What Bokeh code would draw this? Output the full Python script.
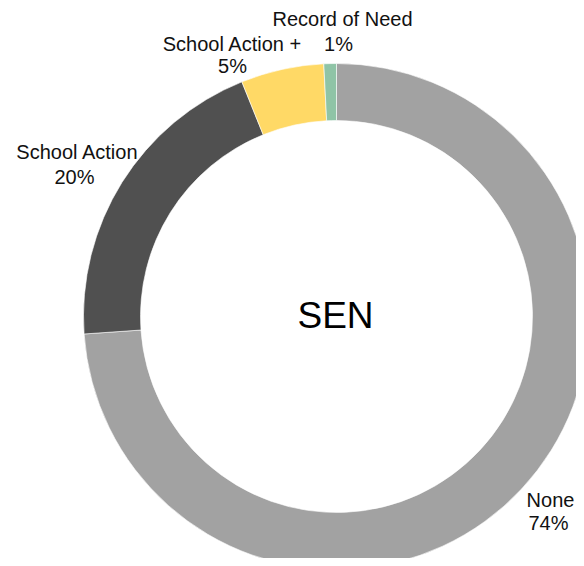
import math
from bokeh.plotting import figure
from bokeh.models import Range1d, ColumnDataSource
from bokeh.core.properties import value
from bokeh.embed import file_html
from bokeh.resources import INLINE

# Data
categories = ["None", "School Action", "School Action +", "Record of Need"]
shares = [73.9, 20.0, 5.3, 0.8]
colors = ["#a2a2a2", "#505050", "#ffd966", "#8fc4a6"]
center_title = "SEN"

W, H = 576, 558
p = figure(width=W, height=H, output_backend="svg", toolbar_location=None,
           x_range=Range1d(0, W), y_range=Range1d(0, H), min_border=0)
p.axis.visible = False
p.grid.visible = False
p.outline_line_color = None
p.background_fill_color = "white"
p.border_fill_color = "white"

cx, cy = 336, 242
R_out, R_in = 253, 196

total = sum(shares)
starts, ends = [], []
cum = 0.0
for s in shares:
    a0 = cum / total
    cum += s
    a1 = cum / total
    # clockwise from 12 o'clock
    starts.append(math.pi / 2 - 2 * math.pi * a1)
    ends.append(math.pi / 2 - 2 * math.pi * a0)

src = ColumnDataSource(dict(x=[cx] * len(shares), y=[cy] * len(shares),
                            start=starts, end=ends, color=colors))
p.annular_wedge(x="x", y="y", inner_radius=R_in, outer_radius=R_out,
                start_angle="start", end_angle="end", fill_color="color",
                line_color="white", line_width=0.6, source=src)

# label positions (name line, percent line)
name_pos = [(550, 59), (77, 407), (232, 515), (342, 540)]
pct_pos = [(548, 36), (74, 382), (232, 493), (338, 515)]
pct_text = [f"{round(s)}%" for s in shares]

font = value("Liberation Sans")
p.text(x=[q[0] for q in name_pos], y=[q[1] for q in name_pos], text=categories,
       text_font=font, text_font_size="20px", text_color="#111111",
       text_align="center", text_baseline="middle")
p.text(x=[q[0] for q in pct_pos], y=[q[1] for q in pct_pos], text=pct_text,
       text_font=font, text_font_size="20px", text_color="#111111",
       text_align="center", text_baseline="middle")
p.text(x=[335], y=[243], text=[center_title], text_font=font,
       text_font_size="37px", text_color="#000000",
       text_align="center", text_baseline="middle")

open("out.html", "w").write(file_html(p, INLINE))
